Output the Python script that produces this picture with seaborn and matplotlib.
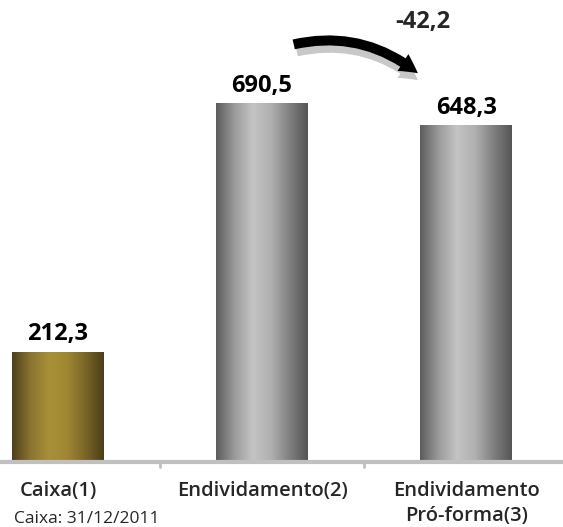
import numpy as np
import matplotlib
matplotlib.use("Agg")
import matplotlib.pyplot as plt
import seaborn as sns
from matplotlib.colors import LinearSegmentedColormap
from matplotlib.patches import FancyArrowPatch

# data
categories = ["Caixa(1)", "Endividamento(2)", "Endividamento\nPró-forma(3)"]
values = [212.3, 690.5, 648.3]
labels = ["212,3", "690,5", "648,3"]
delta_label = "-42,2"
footnote = "Caixa: 31/12/2011"

sns.set_theme(style="white")
plt.rcParams["font.family"] = ["Open Sans", "DejaVu Sans"]

fig = plt.figure(figsize=(5.63, 5.27), dpi=100)
ax = fig.add_axes([0.0, 65 / 527, 1.0, 462 / 527])

sns.barplot(x=categories, y=values, width=0.45, color="white", ax=ax)

gold = LinearSegmentedColormap.from_list(
    "gold", ["#4e411b", "#8a7430", "#a89038", "#a08733", "#7a6628", "#4a3e1a"])
grey = LinearSegmentedColormap.from_list(
    "grey", ["#5c5c5c", "#9a9a9a", "#c4c4c4", "#b0b0b0", "#808080", "#555555"])
grad = np.linspace(0, 1, 256).reshape(1, -1)

for i, p in enumerate(ax.patches):
    x0, w, h = p.get_x(), p.get_width(), p.get_height()
    cmap = gold if i == 0 else grey
    im = ax.imshow(grad, cmap=cmap, aspect="auto",
                   extent=[x0, x0 + w, 0, h], zorder=2)
    im.set_clip_path(p)
    p.set_edgecolor("none")
    ax.text(x0 + w / 2, h + 10, labels[i], ha="center", va="bottom",
            fontsize=17, fontweight="bold", color="black")

ax.set_xlim(-0.284, 2.475)
ax.set_ylim(0, 888)
ax.set_aspect("auto")
ax.set_yticks([])
ax.set_ylabel("")
ax.set_xticks([0, 1, 2])
ax.set_xticklabels(categories, fontsize=14.5, fontweight="semibold", linespacing=1.3)
ax.tick_params(axis="x", length=0, pad=14)
for x in [0.5, 1.5]:
    ax.plot([x, x], [0, -10], color="#c0c0c0", lw=2, clip_on=False)
for s in ["top", "right", "left"]:
    ax.spines[s].set_visible(False)
ax.spines["bottom"].set_color("#c0c0c0")
ax.spines["bottom"].set_linewidth(3)

# curved arrow with shadow
fig_tr = fig.transFigure
def px(x, y):
    return (x / 563, 1 - y / 527)
style = "simple,head_width=1.2,head_length=1.1,tail_width=0.6"
shadow = FancyArrowPatch(px(294, 52), px(420, 82), transform=fig_tr,
                         connectionstyle="arc3,rad=-0.25", arrowstyle=style,
                         mutation_scale=12, color="#c8c8c8", lw=0)
arrow = FancyArrowPatch(px(291, 45), px(420, 75), transform=fig_tr,
                        connectionstyle="arc3,rad=-0.25", arrowstyle=style,
                        mutation_scale=12, color="black", lw=0)
fig.patches.extend([shadow, arrow])
fig.text(423 / 563, 1 - 22 / 527, delta_label, ha="center", va="center",
         fontsize=17, fontweight="bold")
fig.text(14 / 563, 1 - 511 / 527, footnote, ha="left", va="top", fontsize=12.5)

fig.savefig("out.png", dpi=100)
